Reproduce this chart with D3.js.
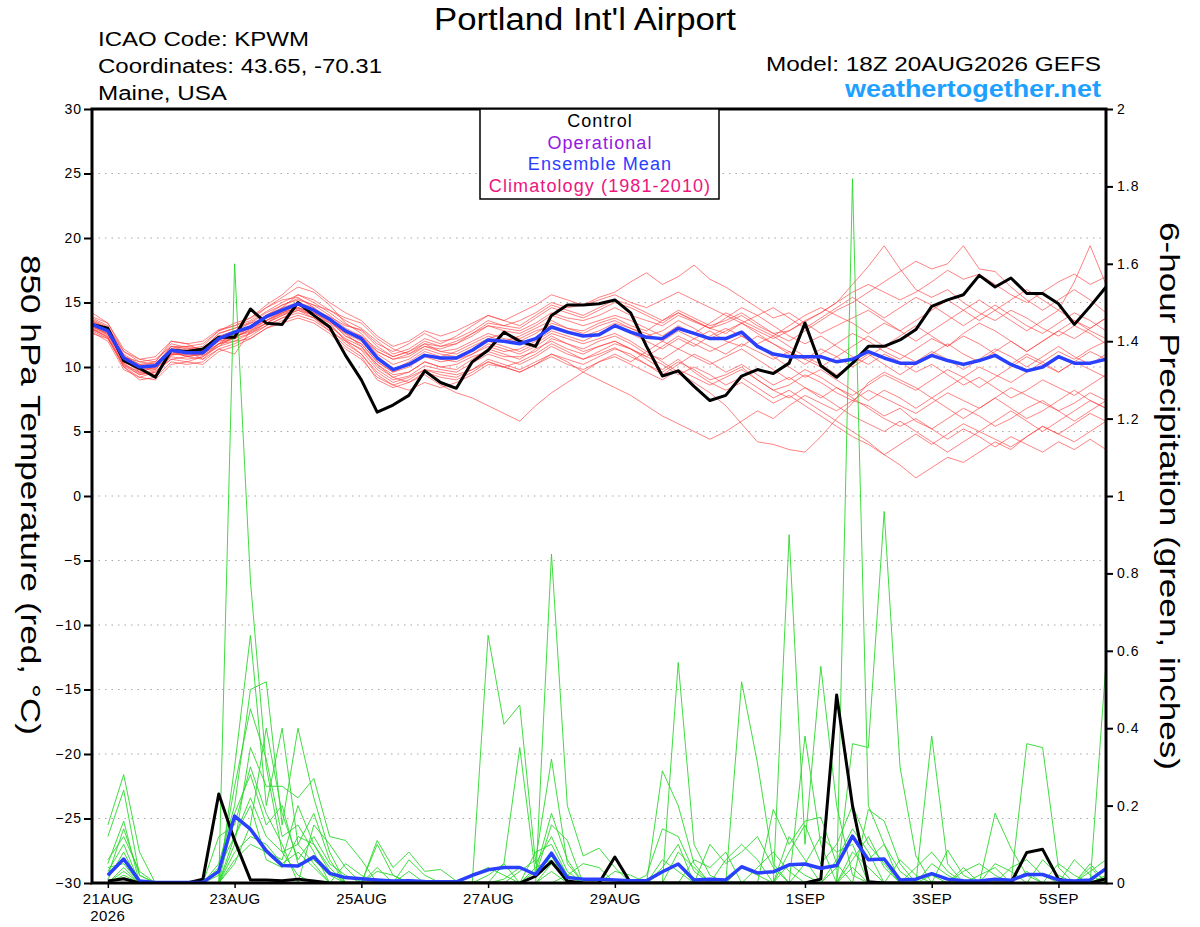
<!DOCTYPE html>
<html>
<head>
<meta charset="utf-8">
<script src="https://cdn.jsdelivr.net/npm/d3@7"></script>
<style>
  body { margin: 0; background: #fff; }
  text { font-family: "Liberation Sans", Arial, Helvetica, sans-serif; }
</style>
</head>
<body>
<div id="chart"></div>
<script>
// forecast hours, 6-hourly from 18Z 20AUG2026
const xTickHours = [6, 54, 102, 150, 198, 270, 318, 366];
const xTickLabels = ["21AUG", "23AUG", "25AUG", "27AUG", "29AUG", "1SEP", "3SEP", "5SEP"];
const tempTicks = [-30, -25, -20, -15, -10, -5, 0, 5, 10, 15, 20, 25, 30];
const precipTicks = [0, 0.2, 0.4, 0.6, 0.8, 1, 1.2, 1.4, 1.6, 1.8, 2];

// 850 hPa temperature (C), hours 0..384
const controlTemp = [13.3,13.0,10.5,9.9,9.2,11.3,11.2,11.4,12.3,12.3,14.5,13.4,13.3,15.0,14.0,13.1,10.9,9.0,6.5,7.05,
  7.8,9.7,8.8,8.35,10.4,11.3,12.7,12.0,11.6,14.0,14.8,14.8,14.9,15.2,14.2,11.6,9.3,9.7,8.5,7.4,
  7.8,9.3,9.8,9.5,10.3,13.4,10.1,9.2,10.3,11.6,11.6,12.1,12.9,14.7,15.2,15.6,17.1,16.2,16.9,15.7,
  15.7,14.9,13.3,14.7,16.2];
const meanTemp = [13.3,12.8,10.7,10.0,10.1,11.3,11.1,11.1,12.2,12.7,13.1,13.9,14.4,14.9,14.4,13.7,12.8,12.2,10.7,9.8,
  10.2,10.9,10.7,10.7,11.3,12.1,12.0,11.8,12.2,13.1,12.7,12.4,12.5,13.2,12.7,12.3,12.2,13.0,12.6,12.2,
  12.2,12.7,11.6,11.0,10.8,10.8,10.8,10.4,10.6,11.2,10.7,10.3,10.3,10.9,10.5,10.2,10.5,10.9,10.2,9.7,
  10.0,10.8,10.3,10.3,10.6];

const memberTemp = [
  [13.8,13.2,11.0,10.2,10.4,11.8,11.5,11.3,12.6,13.0,13.5,14.3,15.0,15.6,15.0,14.2,13.3,12.8,
   11.6,10.8,11.2,12.0,11.6,11.8,12.4,13.2,13.0,12.8,13.4,14.2,13.8,13.6,14.0,
   14.6,14.0,13.6,13.2,14.0,13.5,13.0,13.4,14.0,13.2,12.6,12.8,13.5,14.2,15.0,15.8,
   16.4,15.8,15.2,15.8,16.6,17.5,16.8,17.2,16.4,15.6,15.0,15.8,16.6,17.2,16.4,17.0],
  [12.9,12.4,10.2,9.4,9.6,10.8,10.6,10.8,11.8,12.3,12.9,13.6,14.1,14.5,14.0,13.2,12.1,11.3,
   9.8,9.0,9.3,10.1,9.8,9.6,10.3,11.0,10.6,10.2,10.8,11.6,11.0,10.6,11.0,
   11.5,10.8,10.2,9.6,10.4,9.8,9.0,9.4,10.0,9.0,8.2,8.6,9.4,8.8,8.0,7.4,
   7.0,6.2,6.8,5.8,5.2,6.0,6.8,6.2,5.4,6.0,6.8,7.4,6.6,7.2,8.0,7.4],
  [13.5,13.0,10.6,9.6,9.3,11.0,11.4,11.6,12.8,13.4,13.8,14.6,15.2,15.4,14.6,13.8,12.6,11.6,
   10.0,9.2,8.8,9.4,8.6,8.0,7.6,7.0,6.4,5.8,7.0,8.0,8.8,9.6,10.4,
   11.0,10.4,11.2,12.0,11.4,12.2,12.8,12.0,11.6,12.4,11.8,11.0,10.2,11.0,11.8,12.6,
   12.0,11.2,10.6,11.4,12.2,11.6,12.6,13.4,12.8,12.0,11.2,12.0,12.8,13.6,13.0,13.8],
  [13.1,12.6,10.4,9.8,10.0,11.2,10.8,11.0,12.0,12.4,12.8,13.6,14.3,14.8,14.4,13.9,13.2,12.9,
   11.8,11.2,11.8,12.6,12.0,12.2,12.8,13.6,13.2,13.0,13.8,14.6,14.2,13.8,14.4,
   15.0,14.6,14.0,13.4,14.2,13.6,13.0,12.6,13.4,12.8,12.2,12.8,13.6,14.2,15.0,16.4,
   17.8,19.4,17.6,16.0,15.4,16.0,15.0,14.2,13.6,14.4,13.8,13.0,12.4,13.2,12.6,11.8],
  [13.0,12.5,10.8,10.4,10.6,11.6,11.2,10.6,11.8,12.6,13.0,13.8,14.4,15.0,14.6,13.6,12.4,11.8,
   10.4,9.6,10.0,10.8,10.4,10.6,11.0,11.8,11.4,11.0,11.6,12.4,11.8,11.2,11.6,
   12.0,11.4,10.6,9.8,10.6,9.6,8.8,8.2,8.8,8.0,7.2,7.8,7.0,6.2,5.4,4.6,
   4.0,3.2,2.4,1.4,2.2,3.0,2.6,3.4,4.2,3.6,4.6,5.4,4.8,5.6,6.4,5.8],
  [14.2,13.4,11.4,10.6,10.4,12.0,11.8,11.2,12.4,12.2,13.2,14.0,14.8,15.2,14.8,14.4,13.8,13.4,
   12.2,11.4,11.0,11.8,11.2,11.4,12.0,12.6,12.2,12.0,12.6,13.4,13.0,12.8,13.4,
   13.8,13.2,12.8,13.6,14.2,13.6,13.0,13.8,14.6,14.0,13.2,12.4,11.8,12.4,11.6,10.8,
   10.2,11.0,10.4,9.6,10.2,9.4,8.6,9.2,8.4,7.6,8.2,9.0,8.4,7.8,8.6,9.4],
  [12.8,12.2,10.0,9.2,9.6,10.6,10.4,10.8,11.6,12.0,12.6,13.4,14.0,14.6,14.2,13.4,12.0,11.0,
   9.6,8.8,9.2,9.8,9.4,9.2,9.8,10.6,10.2,9.8,10.4,11.0,10.4,9.6,9.0,
   8.4,7.8,7.0,6.2,5.6,5.0,4.4,5.0,5.8,6.6,6.0,7.0,7.8,7.2,6.6,7.4,
   8.2,7.6,7.0,6.4,7.2,8.0,7.4,6.8,7.6,8.4,7.8,7.2,6.6,5.8,6.6,7.4],
  [13.6,13.0,10.8,10.0,9.8,11.4,11.6,11.4,12.4,12.8,13.4,13.8,14.6,15.0,14.4,13.6,12.8,12.4,
   11.0,10.2,10.6,11.4,11.0,10.8,11.4,12.0,11.6,11.2,11.8,12.6,12.2,11.8,12.2,
   12.6,12.0,11.2,10.4,9.6,8.8,8.0,7.0,5.6,4.2,4.0,3.6,3.4,4.6,6.0,7.2,
   8.8,9.6,9.0,8.4,7.6,8.4,9.2,10.0,9.4,8.8,9.6,10.4,11.2,10.6,11.4,12.0],
  [13.4,12.9,10.6,9.9,10.2,11.0,11.0,11.4,12.2,12.6,13.2,14.0,14.6,15.6,15.2,14.4,13.6,13.0,
   12.0,11.0,11.4,12.2,11.8,12.4,13.2,14.0,13.6,13.2,14.0,14.8,14.4,14.0,14.6,
   15.2,14.8,14.2,13.6,14.4,13.8,13.2,13.6,14.2,13.4,12.6,12.0,12.8,13.6,14.4,15.0,
   15.8,16.6,17.4,18.2,17.6,18.0,19.4,17.6,17.4,16.2,15.2,14.4,15.2,16.0,15.2,14.2],
  [12.6,12.2,10.2,9.6,10.0,11.2,10.8,10.6,11.4,11.8,12.4,13.2,13.8,14.2,13.8,13.0,11.8,11.0,
   9.4,8.6,8.2,8.8,8.4,8.8,9.4,10.2,10.0,9.6,10.2,11.0,10.6,10.2,10.8,
   11.4,11.0,10.2,9.4,10.2,11.0,10.4,9.6,10.2,9.4,8.6,9.2,8.4,7.6,8.4,7.6,
   6.8,6.0,5.4,6.0,5.2,4.4,5.2,4.6,3.8,4.6,4.0,3.4,4.2,3.6,4.4,3.6],
  [13.9,13.4,11.2,10.4,10.2,11.6,11.6,11.8,12.8,13.2,13.6,14.6,15.4,16.2,15.8,14.8,13.4,12.6,
   11.2,10.6,10.8,11.6,11.4,11.8,12.6,13.4,13.2,13.6,14.2,15.0,14.6,14.8,15.4,
   15.8,16.6,17.3,16.4,17.0,17.9,16.8,16.2,15.4,14.6,13.8,14.2,13.4,12.6,13.2,13.8,
   14.4,13.6,12.8,13.6,14.4,15.2,14.4,13.6,14.4,15.2,16.0,15.2,14.4,16.6,19.4,16.4],
  [13.2,12.7,10.4,9.8,9.4,10.9,11.2,11.0,11.8,12.0,12.2,13.0,13.6,14.0,13.6,12.8,11.6,10.8,
   9.0,8.4,8.8,9.6,9.2,9.0,9.6,10.4,10.0,9.6,10.2,10.8,10.2,9.8,10.4,
   10.8,10.2,9.6,9.0,9.8,9.2,8.6,9.2,9.8,9.0,8.2,7.6,8.4,7.8,7.0,6.2,
   5.6,5.0,5.8,5.0,4.2,3.4,4.2,5.0,4.4,3.8,4.6,5.4,4.8,4.2,5.0,5.8],
  [13.0,12.3,10.0,9.0,9.2,10.4,10.2,10.4,11.4,11.0,12.8,13.4,14.2,14.6,14.0,13.4,12.6,12.0,
   10.6,9.8,10.4,11.2,10.8,11.2,11.8,12.4,12.0,12.4,13.0,13.6,13.0,12.6,13.2,
   13.6,13.0,12.4,12.8,13.6,13.0,12.2,12.8,13.4,12.6,11.8,11.2,10.6,11.4,10.8,10.0,
   10.8,11.6,11.0,10.4,11.2,10.6,9.8,10.6,11.4,10.8,10.0,10.8,11.6,10.8,10.2,11.0],
  [13.7,13.1,11.2,10.6,10.8,12.0,11.8,12.0,12.9,13.2,13.8,14.8,15.6,16.7,16.0,15.0,14.2,13.6,
   12.4,11.6,12.0,12.8,12.4,12.8,13.4,14.0,13.6,14.2,14.8,15.6,15.2,14.8,15.2,
   15.6,15.0,14.6,15.2,15.8,15.2,14.6,14.0,13.4,14.0,14.6,13.8,13.0,13.8,14.6,15.4,
   14.6,13.8,14.6,15.4,14.8,14.0,13.2,14.0,14.8,14.0,13.2,12.6,13.4,14.2,13.6,12.8],
  [12.7,12.0,9.8,9.2,9.0,10.2,10.4,10.2,11.2,11.6,12.2,13.0,13.4,13.8,13.4,12.6,11.4,10.6,
   9.2,8.6,9.0,9.8,9.6,9.4,9.8,10.4,10.0,10.4,11.0,11.8,11.2,10.6,11.2,
   11.8,11.4,10.8,11.6,12.4,11.8,11.2,11.8,12.4,11.6,10.8,10.0,9.2,9.8,9.0,8.2,
   7.4,8.2,7.6,6.8,7.6,6.8,6.0,6.8,7.6,6.8,6.0,6.6,7.4,8.2,7.4,6.8],
  [13.4,12.8,10.8,10.2,10.0,11.6,11.4,11.2,12.0,12.2,13.0,13.6,14.2,14.8,14.2,13.6,12.4,11.8,
   10.4,9.6,10.2,11.0,10.6,10.4,11.0,11.6,11.2,11.4,12.0,12.8,12.4,12.0,12.6,
   13.2,12.6,12.0,11.4,12.2,11.6,12.4,13.0,12.4,11.8,12.4,11.6,10.8,10.2,9.4,10.2,
   11.0,10.2,9.4,10.2,11.0,11.8,11.0,10.4,11.2,12.0,11.2,12.0,12.8,12.2,13.0,13.8],
  [13.2,12.5,10.5,9.7,9.9,11.0,10.9,11.0,12.1,12.5,13.0,13.8,14.2,14.6,14.2,13.5,12.7,12.3,
   11.2,10.6,11.0,11.6,11.2,11.0,11.6,12.2,12.6,12.2,12.8,13.2,12.8,12.4,12.8,
   13.4,13.0,12.6,12.0,12.8,12.2,11.6,11.0,11.8,11.2,10.6,11.2,10.6,10.0,10.8,11.6,
   12.4,11.6,12.4,13.2,12.4,11.6,12.4,11.8,11.0,10.2,11.0,10.4,9.6,10.4,11.2,10.6],
  [12.9,12.3,10.1,9.4,9.7,10.6,10.8,11.0,11.8,12.2,12.6,13.2,13.8,14.4,13.8,12.8,12.0,11.4,
   10.2,9.4,9.6,10.4,10.0,9.8,10.6,11.4,11.0,10.6,11.4,12.0,11.4,11.0,11.6,
   12.0,11.4,10.8,10.2,9.4,10.0,9.4,8.6,9.2,8.4,7.6,8.2,7.4,6.6,5.8,5.0,
   4.2,3.2,4.0,4.8,4.0,4.8,5.6,5.0,5.8,6.6,5.8,5.0,5.8,6.6,7.4,6.8],
  [13.6,12.9,10.9,10.1,10.3,11.4,11.2,11.4,12.6,13.0,13.4,14.2,14.8,15.3,14.8,14.0,13.0,12.4,
   11.4,10.8,11.2,11.8,11.6,12.0,12.6,13.2,12.8,12.6,13.2,14.0,13.6,13.2,13.6,
   14.0,13.6,13.0,12.4,13.2,12.6,13.4,14.2,13.6,13.0,12.4,13.2,14.0,14.6,14.0,13.4,
   12.6,13.4,12.8,12.0,12.8,13.6,14.4,15.2,14.4,13.6,12.8,13.6,14.4,13.6,12.8,12.2],
  [13.1,12.6,10.3,9.5,9.8,11.0,11.0,10.9,11.6,12.4,12.7,13.4,14.0,14.4,14.0,13.2,12.2,11.6,
   10.2,9.2,9.6,10.4,10.0,10.2,10.8,11.2,10.8,10.8,11.2,12.2,11.8,11.4,12.0,
   12.4,11.8,11.0,10.6,11.4,10.8,10.2,10.8,11.4,10.6,9.8,9.0,9.8,9.2,8.4,7.8,
   8.6,9.4,8.8,8.2,9.0,9.8,9.2,8.4,9.2,10.0,10.8,10.2,9.6,10.4,9.8,9.2]
];

// 6-hour precipitation (inches), hours 6..384
const controlPrecip = [0.005,0.011,0,0,0,0,0.01,0.23, 0.11,0.008,0.008,0.006,0.01,0.005,0,0,
  0,0,0,0,0,0,0,0, 0,0,0,0.018,0.055,0.005,0,0, 0.067,0,0,0,0,0,0,0,
  0,0,0,0,0,0.01,0.486,0.2, 0.003,0,0,0,0,0,0,0, 0,0,0.079,0.087,0.01,0,0,0.011];
const meanPrecip = [0.02,0.062,0.005,0.001,0.001,0.001,0.002,0.03, 0.173,0.139,0.083,0.045,0.044,0.068,0.025,0.014,
  0.011,0.008,0.005,0.006,0.004,0.003,0.003,0.02, 0.034,0.04,0.04,0.022,0.077,0.014,0.01,0.01,
  0.008,0.006,0.006,0.029,0.049,0.008,0.01,0.008, 0.042,0.026,0.029,0.047,0.049,0.038,0.045,0.121,
  0.06,0.062,0.008,0.01,0.024,0.01,0.006,0.005, 0.01,0.007,0.022,0.022,0.008,0.005,0.008,0.037];

const memberPrecip = [
  [0.02,0.14,0.02,0,0,0,0,0, 1.6,0.78,0.3,0.08,0.02,0,0,0, 0,0,0,0,0,0,0,0, 0.02,0.05,0,0,0.03,0,0,0,
   0,0,0,0.04,0.1,0,0,0, 0,0,0,0.05,0.02,0,0,0.04, 0,0,0,0,0.02,0,0,0, 0,0,0.03,0,0,0,0,0],
  [0.15,0.28,0.08,0,0,0,0,0, 0.3,0.64,0.2,0.4,0.1,0.05,0,0, 0,0.1,0.02,0,0,0,0,0, 0,0,0.03,0.06,0.32,0.05,0,0,
   0,0,0,0,0,0,0,0, 0.52,0.31,0.05,0,0,0,0,0.08, 0.04,0,0,0,0,0,0,0, 0,0,0,0,0,0,0.05,0],
  [0.12,0.24,0.02,0,0,0,0,0.05, 0.2,0.5,0.52,0.15,0.4,0.22,0.08,0, 0,0,0,0,0,0,0,0, 0.64,0.41,0.46,0.05,0.12,0.03,0,0,
   0,0,0,0,0,0,0,0, 0,0,0,0.9,0.1,0.56,0.2,0.02, 0,0,0,0,0,0,0.04,0, 0,0,0,0,0,0,0,0],
  [0.05,0.16,0,0,0,0,0,0, 0.1,0.35,0.25,0.25,0.22,0.27,0.12,0.11, 0.06,0,0,0.03,0,0,0,0, 0,0,0,0,0.85,0.2,0.07,0.09,
   0.04,0,0,0,0,0,0,0, 0,0,0,0,0,0,0,1.82, 0.2,0.1,0,0,0.38,0.05,0,0, 0,0,0,0,0,0,0,0.02],
  [0.03,0.1,0,0,0,0,0,0.12, 0.15,0.3,0.18,0.1,0,0.15,0.1,0.04, 0,0.11,0.04,0.08,0.03,0.035,0.005,0, 0,0,0,0,0,0,0,0,
   0,0,0,0,0.57,0.1,0.02,0, 0,0,0,0,0,0,0,0.36, 0.35,0.96,0.3,0.07,0,0,0,0, 0,0,0.36,0.35,0.04,0,0,0],
  [0.02,0.06,0,0,0,0,0,0, 0.08,0.12,0.1,0.05,0.08,0.04,0,0, 0,0,0,0,0,0,0,0, 0,0.05,0.35,0.02,0.15,0.11,0,0,
   0,0,0,0.29,0.2,0.05,0,0, 0,0,0.19,0.1,0.16,0.17,0.05,0, 0,0,0,0,0,0,0,0, 0.18,0.09,0.02,0,0,0,0,0.57],
  [0,0.03,0,0,0,0,0,0.04, 0.12,0.2,0.06,0.04,0.12,0.1,0.03,0, 0,0,0,0,0,0,0,0.02, 0.04,0.02,0,0.08,0.1,0.02,0,0,
   0,0,0.02,0.14,0.12,0.03,0,0.06, 0.1,0.06,0,0,0.38,0.1,0,0, 0.19,0.16,0.05,0,0,0.085,0.02,0, 0,0,0,0,0,0.06,0.02,0],
  [0,0.02,0,0,0,0,0,0, 0.05,0.15,0.4,0.18,0.06,0.12,0.05,0.02, 0,0.04,0,0.06,0.02,0,0,0, 0,0,0,0,0,0.02,0.05,0.04,
   0,0,0,0,0,0,0.1,0.05, 0.08,0.12,0.04,0,0,0,0.06,0.14, 0.08,0,0,0.04,0.08,0.03,0,0, 0,0,0,0.06,0.02,0,0,0],
  [0.01,0.08,0,0,0,0,0,0.02, 0.25,0.45,0.32,0.12,0.15,0.08,0,0.05, 0.02,0,0,0,0,0,0,0, 0,0,0,0.03,0.18,0.06,0,0,
   0.03,0.02,0,0,0.08,0.04,0,0, 0,0,0,0.08,0.15,0.05,0.1,0.2, 0.1,0.05,0,0,0,0,0,0, 0.05,0.03,0,0,0,0,0.03,0.06],
  [0.06,0.12,0.03,0,0,0,0,0, 0.18,0.28,0.15,0.2,0.05,0.06,0.02,0, 0,0,0,0,0,0,0,0, 0,0.01,0.04,0.02,0.07,0,0,0,
   0,0,0,0.03,0.05,0,0,0, 0.04,0.02,0,0,0.05,0.12,0.08,0.1, 0,0,0.06,0.02,0,0,0,0.02, 0.04,0,0,0,0.05,0.02,0,0],
  [0.04,0.05,0,0,0,0,0,0, 0.12,0.22,0.12,0.08,0.1,0.18,0.06,0, 0,0,0,0,0,0,0,0, 0,0,0,0,0.05,0.02,0,0,
   0,0,0,0,0,0.06,0.04,0.08, 0,0,0,0.12,0.06,0,0.04,0.12, 0.06,0.1,0.03,0,0.05,0.02,0,0, 0,0.04,0.06,0.02,0,0,0.04,0],
  [0,0.04,0,0,0,0,0,0, 0.06,0.1,0.08,0.06,0.2,0.1,0.04,0, 0,0.03,0.02,0,0,0,0,0, 0,0,0,0.04,0.06,0,0,0,
   0,0,0,0.06,0.03,0,0,0, 0,0.04,0.08,0.03,0,0,0,0.06, 0.12,0.04,0,0,0,0,0.03,0.05, 0.02,0,0,0,0,0,0,0.04]
];

const svgWidth = 1200;
const svgHeight = 927;
const margin = { top: 109, right: 94, bottom: 44, left: 92 };
const width = svgWidth - margin.left - margin.right;
const height = svgHeight - margin.top - margin.bottom;

const root = d3.select('#chart')
    .append('svg')
    .attr('width', svgWidth)
    .attr('height', svgHeight);

const svg = root.append('g')
    .attr('transform', `translate(${margin.left},${margin.top})`);

const xScale = d3.scaleLinear().domain([0, 384]).range([0, width]);
const yTemp = d3.scaleLinear().domain([-30, 30]).range([height, 0]);
const yPrecip = d3.scaleLinear().domain([0, 2]).range([height, 0]);

const tempLine = d3.line()
    .x((_d, i) => xScale(i * 6))
    .y(d => yTemp(d));
const precipLine = d3.line()
    .x((_d, i) => xScale((i + 1) * 6))
    .y(d => yPrecip(d));

svg.append('clipPath').attr('id', 'plotclip')
    .append('rect').attr('width', width).attr('height', height);

// dotted grid at temperature ticks
svg.append('g')
    .selectAll('line')
    .data(tempTicks.filter(t => t > -30 && t < 30))
    .join('line')
    .attr('x1', 0).attr('x2', width)
    .attr('y1', d => yTemp(d)).attr('y2', d => yTemp(d))
    .style('stroke', '#a8a8a8')
    .style('stroke-width', 1.2)
    .style('stroke-dasharray', '1.5,5');

const plot = svg.append('g').attr('clip-path', 'url(#plotclip)');

// ensemble members
plot.append('g')
    .selectAll('path')
    .data(memberTemp)
    .join('path')
    .attr('d', tempLine)
    .style('fill', 'none')
    .style('stroke', '#ff3a3a')
    .style('stroke-opacity', 0.8)
    .style('stroke-width', 0.8);

plot.append('g')
    .selectAll('path')
    .data(memberPrecip)
    .join('path')
    .attr('d', precipLine)
    .style('fill', 'none')
    .style('stroke', '#2ad82a')
    .style('stroke-width', 0.9);

// control and ensemble mean
plot.append('path').datum(controlTemp).attr('d', tempLine)
    .style('fill', 'none').style('stroke', 'black').style('stroke-width', 3)
    .style('stroke-linejoin', 'round');
plot.append('path').datum(meanTemp).attr('d', tempLine)
    .style('fill', 'none').style('stroke', '#2a40ff').style('stroke-width', 3.5)
    .style('stroke-linejoin', 'round');
plot.append('path').datum(controlPrecip).attr('d', precipLine)
    .style('fill', 'none').style('stroke', 'black').style('stroke-width', 3)
    .style('stroke-linejoin', 'round');
plot.append('path').datum(meanPrecip).attr('d', precipLine)
    .style('fill', 'none').style('stroke', '#2a40ff').style('stroke-width', 3.5)
    .style('stroke-linejoin', 'round');

// frame
svg.append('rect')
    .attr('width', width).attr('height', height)
    .style('fill', 'none').style('stroke', 'black').style('stroke-width', 3);

// Left axis
const leftAxis = svg.append('g')
    .call(d3.axisLeft(yTemp).tickValues(tempTicks).tickSize(8).tickPadding(2));
leftAxis.select('.domain').remove();
leftAxis.selectAll('.tick line').style('stroke-width', 2);
leftAxis.selectAll('text').style('font-size', '14px').style('letter-spacing', '1px');

// Right axis
const rightAxis = svg.append('g')
    .attr('transform', `translate(${width},0)`)
    .call(d3.axisRight(yPrecip).tickValues(precipTicks).tickSize(7).tickPadding(4)
        .tickFormat(d => String(+d.toFixed(1))));
rightAxis.select('.domain').remove();
rightAxis.selectAll('.tick line').style('stroke-width', 2);
rightAxis.selectAll('text').style('font-size', '14px').style('letter-spacing', '1px');

// X axis
const bottomAxis = svg.append('g')
    .attr('transform', `translate(0,${height})`)
    .call(d3.axisBottom(xScale).tickValues(xTickHours).tickSize(5).tickPadding(5)
        .tickFormat((_d, i) => xTickLabels[i]));
bottomAxis.select('.domain').remove();
bottomAxis.selectAll('.tick line').style('stroke-width', 1.5);
bottomAxis.selectAll('text').style('font-size', '15px').style('letter-spacing', '0.4px');

svg.append('text')
    .attr('x', xScale(xTickHours[0]))
    .attr('y', height + 38)
    .attr('text-anchor', 'middle')
    .style('font-size', '15px')
    .style('letter-spacing', '0.4px')
    .text('2026');

// Legend
const legend = root.append('g');
legend.append('rect')
    .attr('x', 480).attr('y', 109).attr('width', 239).attr('height', 90)
    .style('fill', 'white').style('stroke', 'black').style('stroke-width', 1.5);
const legendItems = [
    { label: 'Control', color: 'black' },
    { label: 'Operational', color: '#9418e0' },
    { label: 'Ensemble Mean', color: '#2a40ff' },
    { label: 'Climatology (1981-2010)', color: '#ee1480' }
];
legend.selectAll('text.leg')
    .data(legendItems)
    .join('text')
    .attr('class', 'leg')
    .attr('x', 600)
    .attr('y', (_d, i) => 127 + i * 21.7)
    .attr('text-anchor', 'middle')
    .style('font-size', '18px')
    .style('letter-spacing', '1.1px')
    .style('fill', d => d.color)
    .text(d => d.label);

// Title and header
root.append('text')
    .attr('x', 434).attr('y', 30)
    .attr('textLength', 302).attr('lengthAdjust', 'spacingAndGlyphs')
    .style('font-size', '31px')
    .text("Portland Int'l Airport");

const header = [
    { t: 'ICAO Code: KPWM', y: 46, w: 211 },
    { t: 'Coordinates: 43.65, -70.31', y: 73, w: 284 },
    { t: 'Maine, USA', y: 100, w: 129 }
];
root.selectAll('text.hdr')
    .data(header)
    .join('text')
    .attr('class', 'hdr')
    .attr('x', 98)
    .attr('y', d => d.y)
    .attr('textLength', d => d.w)
    .attr('lengthAdjust', 'spacingAndGlyphs')
    .style('font-size', '20px')
    .text(d => d.t);

root.append('text')
    .attr('x', 766).attr('y', 71)
    .attr('textLength', 335).attr('lengthAdjust', 'spacingAndGlyphs')
    .style('font-size', '20px')
    .text('Model: 18Z 20AUG2026 GEFS');

root.append('text')
    .attr('x', 845).attr('y', 97)
    .attr('textLength', 256).attr('lengthAdjust', 'spacingAndGlyphs')
    .style('font-size', '24px')
    .style('font-weight', 'bold')
    .style('fill', '#1ea0ff')
    .text('weathertogether.net');

// Axis titles
root.append('text')
    .attr('transform', 'translate(31,495) rotate(90)')
    .attr('text-anchor', 'middle')
    .attr('dy', '0.35em')
    .attr('textLength', 480).attr('lengthAdjust', 'spacingAndGlyphs')
    .style('font-size', '28px')
    .text('850 hPa Temperature (red, °C)');

root.append('text')
    .attr('transform', 'translate(1170,496) rotate(90)')
    .attr('text-anchor', 'middle')
    .attr('dy', '0.35em')
    .attr('textLength', 548).attr('lengthAdjust', 'spacingAndGlyphs')
    .style('font-size', '28px')
    .text('6-hour Precipitation (green, inches)');
</script>
</body>
</html>
